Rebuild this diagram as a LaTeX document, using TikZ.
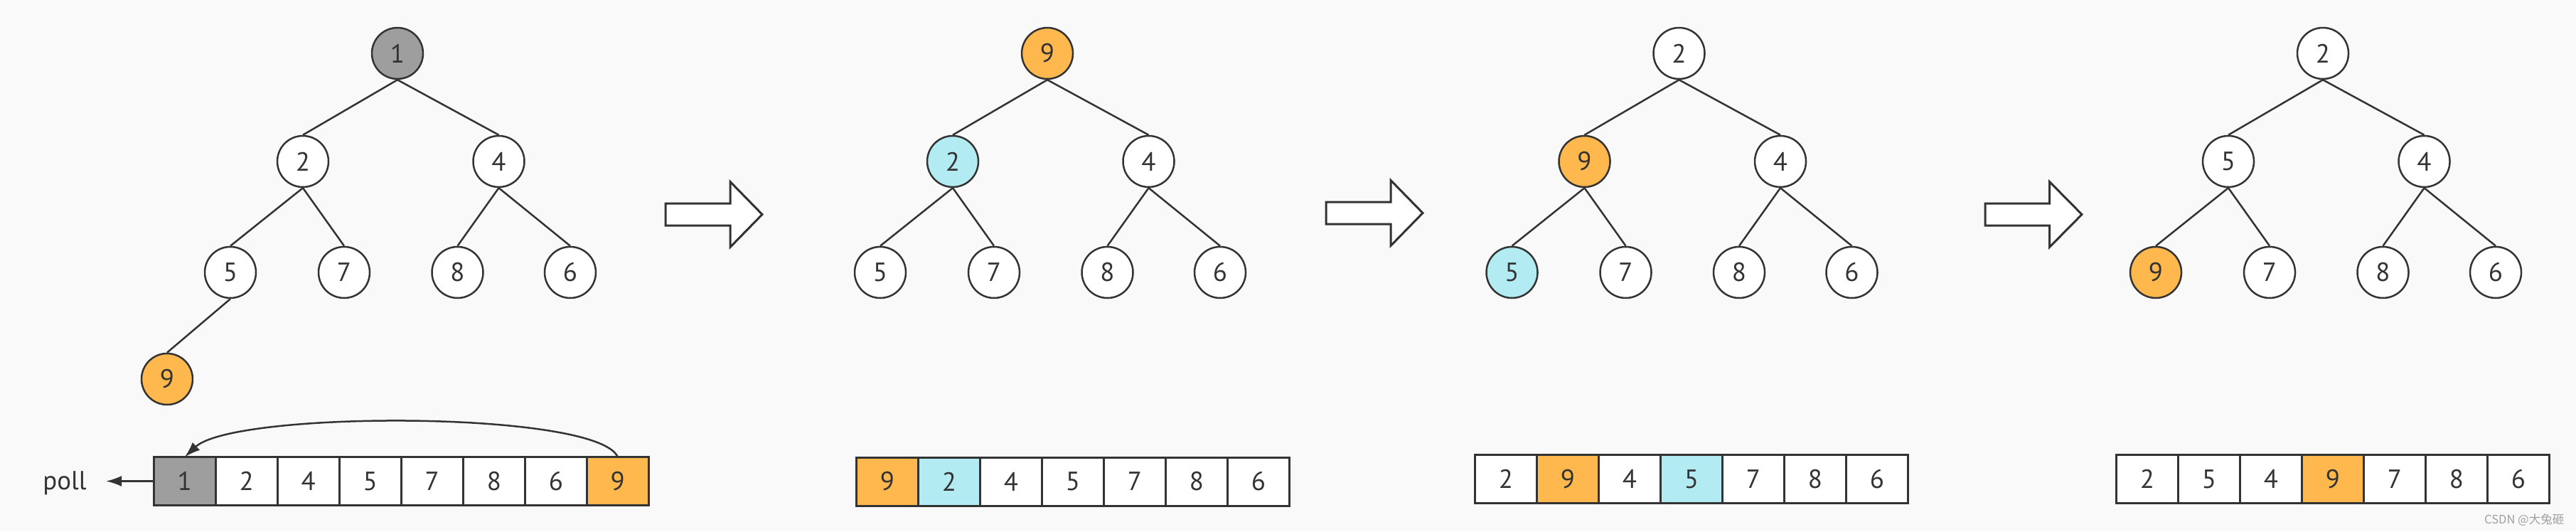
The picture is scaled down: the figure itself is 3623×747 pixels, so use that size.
\documentclass[tikz,border=0pt]{standalone}
\usepackage{fontspec}
\setmainfont{PT Sans}
\newfontfamily\cjk{Noto Sans CJK SC}
\usetikzlibrary{arrows.meta, positioning}
\definecolor{ink}{HTML}{333333}
\definecolor{paper}{HTML}{F9F9F9}
\definecolor{heapOrange}{HTML}{FFB84D}
\definecolor{heapCyan}{HTML}{B2EBF2}
\definecolor{heapGray}{HTML}{9E9E9E}

\begin{document}
\begin{tikzpicture}[x=0.1mm, y=-0.1mm, on grid]
\tikzset{vertex/.style={circle, draw=ink, line width=0.25mm, fill=white, minimum size=7.2mm, inner sep=0, text=ink, font=\fontsize{10.5}{12}\selectfont},
		cell/.style={rectangle, draw=ink, line width=0.3mm, fill=white, minimum width=8.7mm, minimum height=6.8mm, inner sep=0, outer sep=0, text=ink, font=\fontsize{10.5}{12}\selectfont},
		moved/.style={fill=heapOrange},
		swapped/.style={fill=heapCyan},
		removed/.style={fill=heapGray},
		link/.style={draw=ink, line width=0.25mm},
		jump/.style={draw=ink, line width=0.25mm, -{Latex[length=2.2mm, width=1.5mm]}},
		transition/.style={draw=ink, line width=0.3mm, fill=white}}
\useasboundingbox (0,0) rectangle (3623,747);
\fill[paper] (0,0) rectangle (3623,747);

\node[vertex, removed] (T1N1) at (559,75) {1};
\node[vertex, below left=15.2mm and 13.3mm of T1N1] (T1N2) {2};
\node[vertex, below right=15.2mm and 14.25mm of T1N1] (T1N3) {4};
\node[vertex, below left=15.6mm and 10.2mm of T1N2] (T1N4) {5};
\node[vertex, below right=15.6mm and 5.8mm of T1N2] (T1N5) {7};
\node[vertex, below left=15.6mm and 5.8mm of T1N3] (T1N6) {8};
\node[vertex, below right=15.6mm and 10.05mm of T1N3] (T1N7) {6};
\node[vertex, moved, below left=15mm and 8.9mm of T1N4] (T1N8) {9};
\draw[link] (T1N1.south) -- (T1N2.north);
\draw[link] (T1N1.south) -- (T1N3.north);
\draw[link] (T1N2.south) -- (T1N4.north);
\draw[link] (T1N2.south) -- (T1N5.north);
\draw[link] (T1N3.south) -- (T1N6.north);
\draw[link] (T1N3.south) -- (T1N7.north);
\draw[link] (T1N4.south) -- (T1N8.north);

\node[cell, removed] (A1C1) at (259.8,676.5) {1};
\node[cell, right=8.7mm of A1C1] (A1C2) {2};
\node[cell, right=8.7mm of A1C2] (A1C3) {4};
\node[cell, right=8.7mm of A1C3] (A1C4) {5};
\node[cell, right=8.7mm of A1C4] (A1C5) {7};
\node[cell, right=8.7mm of A1C5] (A1C6) {8};
\node[cell, right=8.7mm of A1C6] (A1C7) {6};
\node[cell, moved, right=8.7mm of A1C7] (A1C8) {9};
\draw[jump] (A1C8.north) .. controls (840,577) and (330,577) .. (A1C1.north);
\node[anchor=base, text=ink, font=\fontsize{10.5}{12}\selectfont] (Poll) at (91,688) {poll};
\draw[jump, shorten >=1.5mm] (A1C1.west) -- (A1C1.west -| Poll.east);

\draw[transition] (936,286) -- (1027,286) -- (1027,255.5) -- (1072,301.5) -- (1027,347.5) -- (1027,317) -- (936,317) -- cycle;

\node[vertex, moved] (T2N1) at (1473,75) {9};
\node[vertex, swapped, below left=15.2mm and 13.3mm of T2N1] (T2N2) {2};
\node[vertex, below right=15.2mm and 14.25mm of T2N1] (T2N3) {4};
\node[vertex, below left=15.6mm and 10.2mm of T2N2] (T2N4) {5};
\node[vertex, below right=15.6mm and 5.8mm of T2N2] (T2N5) {7};
\node[vertex, below left=15.6mm and 5.8mm of T2N3] (T2N6) {8};
\node[vertex, below right=15.6mm and 10.05mm of T2N3] (T2N7) {6};
\draw[link] (T2N1.south) -- (T2N2.north);
\draw[link] (T2N1.south) -- (T2N3.north);
\draw[link] (T2N2.south) -- (T2N4.north);
\draw[link] (T2N2.south) -- (T2N5.north);
\draw[link] (T2N3.south) -- (T2N6.north);
\draw[link] (T2N3.south) -- (T2N7.north);

\node[cell, moved] (A2C1) at (1248,677) {9};
\node[cell, swapped, right=8.7mm of A2C1] (A2C2) {2};
\node[cell, right=8.7mm of A2C2] (A2C3) {4};
\node[cell, right=8.7mm of A2C3] (A2C4) {5};
\node[cell, right=8.7mm of A2C4] (A2C5) {7};
\node[cell, right=8.7mm of A2C5] (A2C6) {8};
\node[cell, right=8.7mm of A2C6] (A2C7) {6};

\draw[transition] (1865,284) -- (1956,284) -- (1956,253.5) -- (2001,299.5) -- (1956,345.5) -- (1956,315) -- (1865,315) -- cycle;

\node[vertex] (T3N1) at (2361.5,75) {2};
\node[vertex, moved, below left=15.2mm and 13.3mm of T3N1] (T3N2) {9};
\node[vertex, below right=15.2mm and 14.25mm of T3N1] (T3N3) {4};
\node[vertex, swapped, below left=15.6mm and 10.2mm of T3N2] (T3N4) {5};
\node[vertex, below right=15.6mm and 5.8mm of T3N2] (T3N5) {7};
\node[vertex, below left=15.6mm and 5.8mm of T3N3] (T3N6) {8};
\node[vertex, below right=15.6mm and 10.05mm of T3N3] (T3N7) {6};
\draw[link] (T3N1.south) -- (T3N2.north);
\draw[link] (T3N1.south) -- (T3N3.north);
\draw[link] (T3N2.south) -- (T3N4.north);
\draw[link] (T3N2.south) -- (T3N5.north);
\draw[link] (T3N3.south) -- (T3N6.north);
\draw[link] (T3N3.south) -- (T3N7.north);

\node[cell] (A3C1) at (2118,673.3) {2};
\node[cell, moved, right=8.7mm of A3C1] (A3C2) {9};
\node[cell, right=8.7mm of A3C2] (A3C3) {4};
\node[cell, swapped, right=8.7mm of A3C3] (A3C4) {5};
\node[cell, right=8.7mm of A3C4] (A3C5) {7};
\node[cell, right=8.7mm of A3C5] (A3C6) {8};
\node[cell, right=8.7mm of A3C6] (A3C7) {6};

\draw[transition] (2792,286) -- (2882.5,286) -- (2882.5,255.5) -- (2928,301.5) -- (2882.5,347.5) -- (2882.5,317) -- (2792,317) -- cycle;

\node[vertex] (T4N1) at (3267,75) {2};
\node[vertex, below left=15.2mm and 13.3mm of T4N1] (T4N2) {5};
\node[vertex, below right=15.2mm and 14.25mm of T4N1] (T4N3) {4};
\node[vertex, moved, below left=15.6mm and 10.2mm of T4N2] (T4N4) {9};
\node[vertex, below right=15.6mm and 5.8mm of T4N2] (T4N5) {7};
\node[vertex, below left=15.6mm and 5.8mm of T4N3] (T4N6) {8};
\node[vertex, below right=15.6mm and 10.05mm of T4N3] (T4N7) {6};
\draw[link] (T4N1.south) -- (T4N2.north);
\draw[link] (T4N1.south) -- (T4N3.north);
\draw[link] (T4N2.south) -- (T4N4.north);
\draw[link] (T4N2.south) -- (T4N5.north);
\draw[link] (T4N3.south) -- (T4N6.north);
\draw[link] (T4N3.south) -- (T4N7.north);

\node[cell] (A4C1) at (3020,673.3) {2};
\node[cell, right=8.7mm of A4C1] (A4C2) {5};
\node[cell, right=8.7mm of A4C2] (A4C3) {4};
\node[cell, moved, right=8.7mm of A4C3] (A4C4) {9};
\node[cell, right=8.7mm of A4C4] (A4C5) {7};
\node[cell, right=8.7mm of A4C5] (A4C6) {8};
\node[cell, right=8.7mm of A4C6] (A4C7) {6};

\node[anchor=east, inner sep=0, text=gray!75, font=\cjk\fontsize{4.7}{5}\selectfont] (Mark) at (3607,731) {CSDN @大兔砸};
\end{tikzpicture}
\end{document}
